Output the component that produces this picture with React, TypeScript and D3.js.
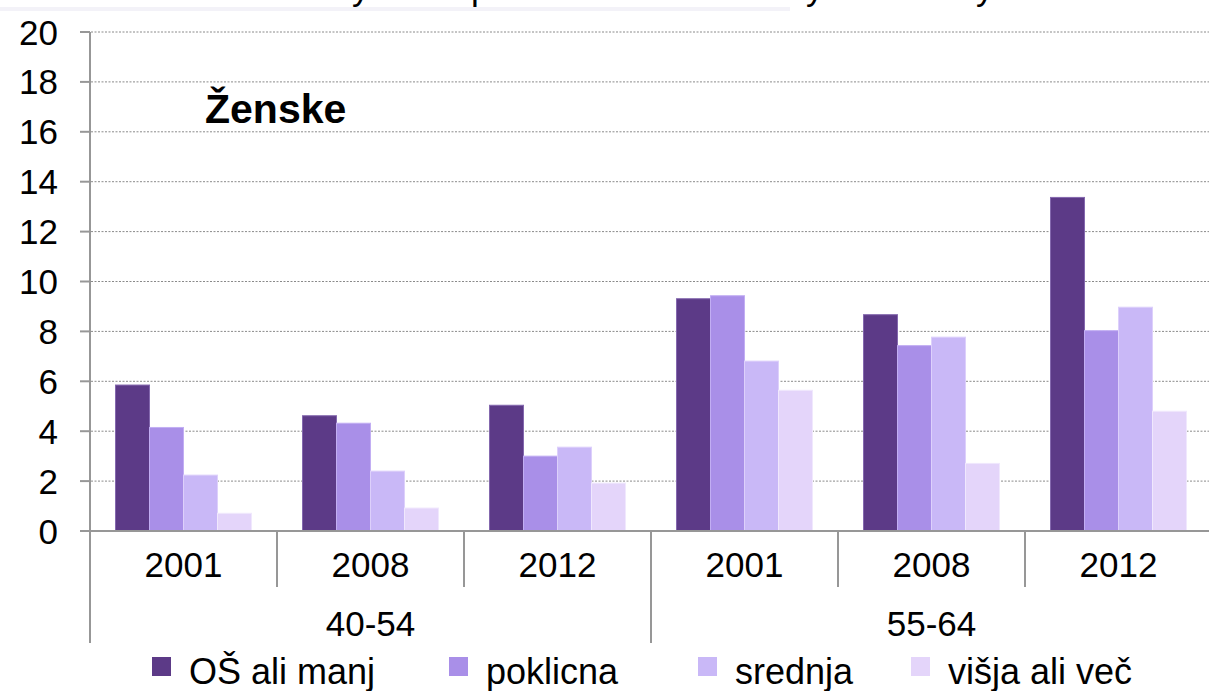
import React from "react";
import * as d3 from "d3";

const ageGroups = ["40-54", "55-64"];
const years = ["2001", "2008", "2012"];
const series = ["OŠ ali manj", "poklicna", "srednja", "višja ali več"];
const colors = ["#5C3A87", "#A98FE8", "#C9B8F7", "#E4D5FA"];
const strokes = ["#8468AE", "#C2AEF3", "#DDD0FB", "#F0E8FD"];
// values per series, in order: 40-54 (2001, 2008, 2012), 55-64 (2001, 2008, 2012)
const osAliManj = [5.85, 4.62, 5.04, 9.31, 8.67, 13.37];
const poklicna = [4.15, 4.32, 3.0, 9.43, 7.43, 8.03];
const srednja = [2.24, 2.4, 3.36, 6.81, 7.77, 8.97];
const visjaAliVec = [0.71, 0.92, 1.92, 5.64, 2.71, 4.8];
const seriesValues = [osAliManj, poklicna, srednja, visjaAliVec];
const yTicks = [0, 2, 4, 6, 8, 10, 12, 14, 16, 18, 20];
const panelTitle = "Ženske";
const titleFragments = [
  { t: "y", x: 352 },
  { t: "p", x: 471 },
  { t: "y", x: 806 },
  { t: "y", x: 976 },
];

const W = 1209;
const H = 691;
const font = "'Liberation Sans', Arial, sans-serif";

export default function App() {
  const cats = ageGroups.flatMap((a) => years.map((y) => `${a}|${y}`));
  const x0 = d3.scaleBand<string>().domain(cats).range([90, 1212]).paddingInner(0).paddingOuter(0);
  const x1 = d3
    .scaleBand<string>()
    .domain(series)
    .range([0, x0.bandwidth()])
    .paddingInner(0)
    .paddingOuter(0.75);
  const y = d3.scaleLinear().domain([0, 20]).range([531, 32]);

  const groupW = x0.bandwidth() * years.length;
  const ageX = (i: number) => 90 + i * groupW;

  const legendX = [152, 449, 698, 911];

  return (
    <svg
      width={W}
      height={H}
      style={{ position: "absolute", left: 0, top: 0, background: "#fff" }}
      fontFamily={font}
    >
      <rect x={0} y={0} width={W} height={H} fill="#fff" />
      {/* cut-off title remnant */}
      <rect x={0} y={7} width={790} height={4} fill="#F3F2F8" />
      {titleFragments.map((f, i) => (
        <text key={i} x={f.x} y={0} fontSize={35} fill="#000">
          {f.t}
        </text>
      ))}

      {/* gridlines */}
      {yTicks.slice(1).map((t) => (
        <line
          key={t}
          x1={91}
          x2={W}
          y1={y(t)}
          y2={y(t)}
          stroke="#8A8A8A"
          strokeWidth={1}
          strokeDasharray="2,1.5"
        />
      ))}

      {/* bars */}
      {cats.map((c, ci) => (
        <g key={c} transform={`translate(${x0(c)},0)`}>
          {series.map((s, si) => {
            const v = seriesValues[si][ci];
            return (
              <rect
                key={s}
                x={x1(s)}
                y={y(v)}
                width={x1.bandwidth()}
                height={y(0) - y(v)}
                fill={colors[si]}
                stroke={strokes[si]}
                strokeWidth={1}
              />
            );
          })}
        </g>
      ))}

      {/* y axis */}
      <line x1={90} x2={90} y1={32} y2={643} stroke="#979797" strokeWidth={2} />
      {yTicks.map((t) => (
        <g key={t}>
          <line x1={80} x2={90} y1={y(t)} y2={y(t)} stroke="#979797" strokeWidth={2} />
          <text x={58} y={y(t) + 12.5} fontSize={35} textAnchor="end" fill="#000">
            {t}
          </text>
        </g>
      ))}

      {/* x axis */}
      <line x1={90} x2={W} y1={531} y2={531} stroke="#979797" strokeWidth={2} />
      {cats.map((c, ci) => {
        const xs = x0(c)!;
        const isAgeStart = ci % years.length === 0;
        return ci === 0 ? null : (
          <line
            key={c}
            x1={xs}
            x2={xs}
            y1={531}
            y2={isAgeStart ? 643 : 587}
            stroke="#979797"
            strokeWidth={2}
          />
        );
      })}
      {cats.map((c) => (
        <text
          key={c}
          x={x0(c)! + x0.bandwidth() / 2}
          y={577}
          fontSize={35}
          textAnchor="middle"
          fill="#000"
        >
          {c.split("|")[1]}
        </text>
      ))}
      {ageGroups.map((a, i) => (
        <text
          key={a}
          x={ageX(i) + groupW / 2}
          y={636}
          fontSize={35}
          textAnchor="middle"
          fill="#000"
        >
          {a}
        </text>
      ))}

      {/* panel title */}
      <text x={205} y={123} fontSize={41} fontWeight="bold" fill="#000">
        {panelTitle}
      </text>

      {/* legend */}
      {series.map((s, i) => (
        <g key={s}>
          <rect x={legendX[i]} y={657} width={19} height={19} fill={colors[i]} />
          <text x={legendX[i] + 37} y={684} fontSize={36} fill="#000">
            {s}
          </text>
        </g>
      ))}
    </svg>
  );
}
